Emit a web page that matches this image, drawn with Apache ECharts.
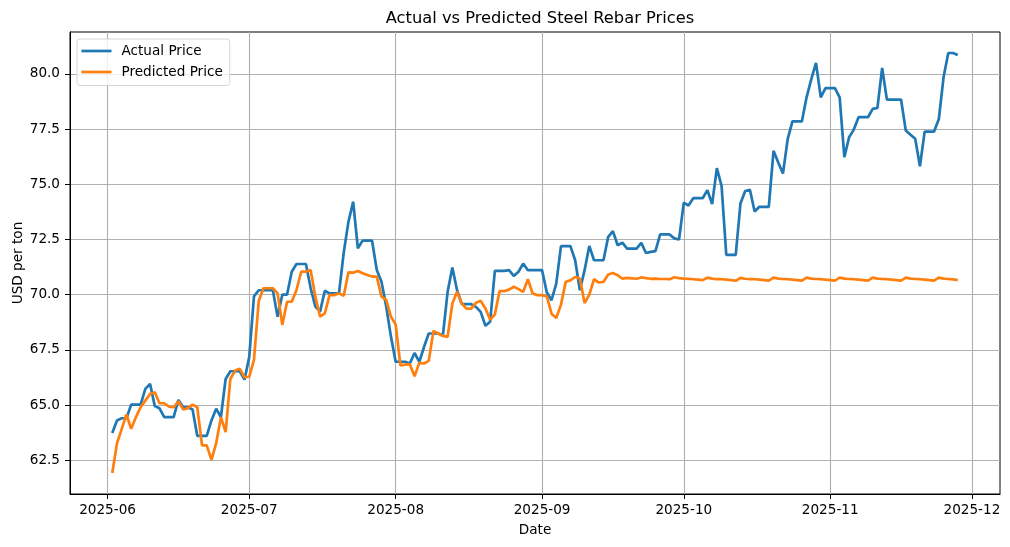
<!DOCTYPE html>
<html>
<head>
<meta charset="utf-8">
<script src="https://cdn.jsdelivr.net/npm/echarts@6/dist/echarts.min.js"></script>
<style>
html,body{margin:0;padding:0;background:#fff;}
#chart{width:1010px;height:547px;}
</style>
</head>
<body>
<div id="chart"></div>
<script>
// ---- data (daily, first date 2025-06-02) ----
const startDate = '2025-06-02';
const actual = [
 // June 2-30
 63.73,64.30,64.40,64.40,65.02,65.02,65.02,65.73,65.96,64.95,64.85,64.45,64.45,64.45,65.23,64.90,64.90,64.80,63.60,63.60,63.60,64.30,64.83,64.45,66.18,66.53,66.53,66.53,66.15,
 // July
 67.18,69.92,70.20,70.20,70.20,70.20,69.00,70.00,70.00,71.04,71.39,71.39,71.39,70.30,69.46,69.23,70.18,70.06,70.06,70.06,71.90,73.30,74.21,72.10,72.45,72.45,72.45,71.12,70.59,69.46,68.10,
 // August
 66.96,66.96,66.96,66.88,67.36,66.95,67.63,68.24,68.24,68.24,68.16,70.13,71.23,70.20,69.57,69.57,69.57,69.45,69.22,68.59,68.77,71.08,71.08,71.08,71.11,70.85,71.04,71.41,71.11,71.11,71.11,
 // September
 71.11,70.10,69.75,70.50,72.20,72.20,72.20,71.56,70.20,71.11,72.21,71.56,71.56,71.56,72.62,72.88,72.24,72.36,72.09,72.09,72.09,72.35,71.89,71.94,71.97,72.73,72.73,72.73,72.55,72.50,
 // October
 74.17,74.04,74.37,74.37,74.37,74.74,74.10,75.73,74.93,71.80,71.80,71.80,74.13,74.70,74.75,73.77,73.98,73.98,73.98,76.52,75.99,75.49,77.05,77.85,77.85,77.85,78.94,79.77,80.50,78.94,79.36,
 // November 1-28
 79.36,79.36,78.94,76.23,77.13,77.48,78.04,78.04,78.04,78.42,78.46,80.27,78.84,78.84,78.84,78.84,77.44,77.25,77.06,75.82,77.39,77.39,77.39,77.96,79.85,80.95,80.95,80.86
];
const predicted = [
 // June 2-30
 61.92,63.27,63.92,64.57,63.92,64.45,64.90,65.20,65.50,65.58,65.08,65.08,64.93,64.90,65.17,64.80,64.86,65.02,64.90,63.17,63.17,62.52,63.27,64.45,63.77,66.18,66.56,66.64,66.26,
 // July
 66.28,67.05,69.70,70.29,70.29,70.29,70.06,68.63,69.68,69.68,70.21,71.04,71.04,71.12,69.91,69.00,69.15,69.98,69.98,70.06,69.95,71.01,71.00,71.07,70.97,70.89,70.82,70.82,69.91,69.76,69.00,
 // August
 68.65,66.80,66.83,66.85,66.30,66.91,66.88,67.00,68.36,68.24,68.13,68.09,69.60,70.13,69.60,69.37,69.37,69.63,69.72,69.37,68.87,69.10,70.16,70.16,70.23,70.36,70.25,70.13,70.70,70.05,69.98,
 // September
 69.98,69.92,69.14,68.94,69.55,70.58,70.65,70.80,70.73,69.62,70.00,70.70,70.55,70.58,70.91,70.98,70.88,70.73,70.76,70.74,70.72,70.78,70.75,70.72,70.73,70.71,70.71,70.70,70.79,70.75,
 // October
 70.73,70.72,70.70,70.68,70.66,70.77,70.73,70.70,70.70,70.68,70.66,70.63,70.76,70.72,70.70,70.70,70.68,70.66,70.64,70.77,70.73,70.71,70.70,70.68,70.66,70.64,70.77,70.73,70.71,70.70,70.68,
 // November 1-28
 70.66,70.64,70.77,70.73,70.71,70.70,70.68,70.66,70.64,70.77,70.73,70.71,70.70,70.68,70.66,70.64,70.77,70.73,70.71,70.70,70.68,70.66,70.64,70.77,70.73,70.71,70.69,70.66
];
const xTickLabels = ['2025-06','2025-07','2025-08','2025-09','2025-10','2025-11','2025-12'];
const yTicks = [62.5,65.0,67.5,70.0,72.5,75.0,77.5,80.0];
const seriesNames = ['Actual Price','Predicted Price'];
const titleText = 'Actual vs Predicted Steel Rebar Prices';
const xName = 'Date';
const yName = 'USD per ton';

// ---- build ----
function ts(s){ const p=s.split('-').map(Number); return new Date(p[0],p[1]-1,p[2]||1).getTime(); }
const t0 = ts(startDate);
const dates = actual.map((_,i)=>{ const d=new Date(t0); d.setDate(d.getDate()+i); return d.getTime(); });
const actualData = dates.map((t,i)=>[t,actual[i]]);
const predData = dates.map((t,i)=>[t,predicted[i]]);
const xTickVals = xTickLabels.map(ts);

// matplotlib-like 5% margins
const xSpan = dates[dates.length-1]-dates[0];
const xMin = dates[0]-0.05*xSpan, xMax = dates[dates.length-1]+0.05*xSpan;
const allV = actual.concat(predicted);
const vMin = Math.min.apply(null,allV), vMax = Math.max.apply(null,allV);
const ySpan = vMax-vMin;
const yMin = vMin-0.05*ySpan, yMax = vMax+0.05*ySpan;

function fmtMonth(v){ const d=new Date(v); const m=d.getMonth()+1; return d.getFullYear()+'-'+(m<10?'0':'')+m; }

const FONT = 'DejaVu Sans';
const chart = echarts.init(document.getElementById('chart'), null, {renderer:'canvas'});
chart.setOption({
  animation:false,
  backgroundColor:'#ffffff',
  title:{
    text:titleText, left:535, top:6, textAlign:'center',
    textStyle:{fontFamily:FONT,fontSize:16.3,fontWeight:'normal',color:'#000'}
  },
  legend:{
    orient:'vertical', left:77, top:39,
    data:seriesNames.map(n=>({name:n,icon:'rect'})),
    itemWidth:30, itemHeight:2.7, itemGap:5,
    padding:[4,7,5.5,4.5],
    backgroundColor:'rgba(255,255,255,0.8)',
    borderColor:'#d6d6d6', borderWidth:1, borderRadius:3,
    textStyle:{fontFamily:FONT,fontSize:13.6,color:'#000',padding:[0,0,0,5],lineHeight:16}
  },
  grid:{left:70,right:10,top:32,bottom:53,containLabel:false,outerBoundsMode:'none',
        show:true,borderColor:'#000',borderWidth:1,backgroundColor:'transparent'},
  xAxis:{
    type:'value', min:xMin, max:xMax, scale:true,
    name:xName, nameLocation:'middle', nameGap:29, nameMoveOverlap:false,
    nameTextStyle:{fontFamily:FONT,fontSize:13.6,color:'#000'},
    axisLine:{show:true,onZero:false,lineStyle:{color:'#000',width:1}},
    axisTick:{show:true,length:5,inside:false,customValues:xTickVals,lineStyle:{color:'#000',width:1}},
    axisLabel:{customValues:xTickVals,formatter:fmtMonth,fontFamily:FONT,fontSize:13.6,color:'#000',margin:9,hideOverlap:false,showMinLabel:true,showMaxLabel:true},
    splitLine:{show:true,lineStyle:{color:'#b0b0b0',width:1.1}}
  },
  yAxis:{
    type:'value', min:yMin, max:yMax, scale:true,
    name:yName, nameLocation:'middle', nameGap:45, nameMoveOverlap:false,
    nameTextStyle:{fontFamily:FONT,fontSize:13.6,color:'#000'},
    axisLine:{show:true,onZero:false,lineStyle:{color:'#000',width:1}},
    axisTick:{show:true,length:5,customValues:yTicks,lineStyle:{color:'#000',width:1}},
    axisLabel:{customValues:yTicks,formatter:v=>Number(v).toFixed(1),fontFamily:FONT,fontSize:13.6,color:'#000',margin:10},
    splitLine:{show:true,lineStyle:{color:'#b0b0b0',width:1.1}}
  },
  series:[
    {name:seriesNames[0],type:'line',data:actualData,showSymbol:false,symbol:'none',
     lineStyle:{color:'#1f77b4',width:2.7},itemStyle:{color:'#1f77b4'},z:3},
    {name:seriesNames[1],type:'line',data:predData,showSymbol:false,symbol:'none',
     lineStyle:{color:'#ff7f0e',width:2.7},itemStyle:{color:'#ff7f0e'},z:4}
  ]
});
</script>
</body>
</html>
